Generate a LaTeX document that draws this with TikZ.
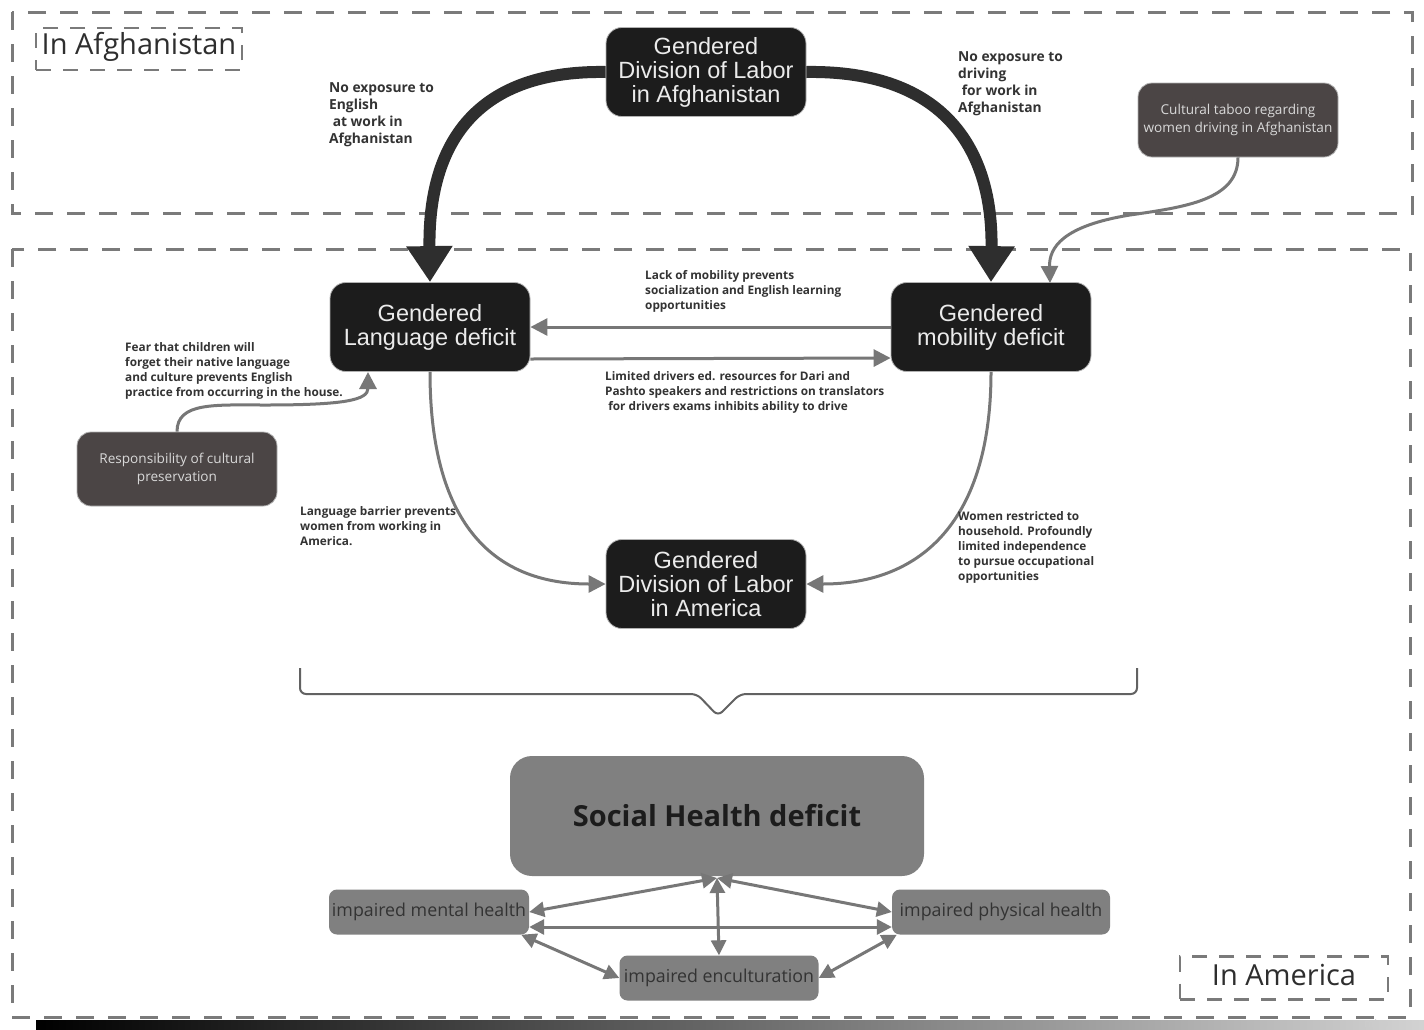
\documentclass[tikz,border=0pt]{standalone}
\usepackage{fontspec}
\setmainfont{Open Sans}
\newfontfamily\arialf{Liberation Sans}
\usetikzlibrary{arrows.meta}
\definecolor{dashc}{HTML}{7A7A7A}
\definecolor{nodeblack}{HTML}{1C1C1C}
\definecolor{brownbox}{HTML}{4B4545}
\definecolor{midgray}{HTML}{808080}
\definecolor{arrowgray}{HTML}{777777}
\definecolor{thickc}{HTML}{2E2E2E}
\definecolor{labtext}{HTML}{333333}
\tikzset{
  regionbox/.style={draw=dashc, line width=3pt, dash pattern=on 18pt off 14pt},
  tagbox/.style={draw=dashc, line width=2.5pt, dash pattern=on 15pt off 12pt, inner sep=0pt},
  blackbox/.style={fill=nodeblack, draw=gray!60, line width=0.8pt, rounded corners=16pt, text=white!92!black,
    minimum width=200pt, minimum height=89pt, align=center, font=\arialf\fontsize{23.5}{24}\selectfont, inner sep=0pt},
  brownnode/.style={fill=brownbox, draw=gray!60, line width=0.8pt, rounded corners=14pt, text=white!85!black,
    minimum width=200pt, minimum height=74pt, align=center, font=\fontsize{13.6}{17.5}\selectfont, inner sep=0pt},
  graybox/.style={fill=midgray, rounded corners=8pt, text=labtext, inner sep=0pt,
    minimum height=45pt, font=\fontsize{17.8}{20}\selectfont},
  note/.style={anchor=north west, align=left, text=labtext, inner sep=0pt, font=\bfseries\fontsize{11.8}{15.2}\selectfont},
  bignote/.style={anchor=north west, align=left, text=labtext, inner sep=0pt, font=\bfseries\fontsize{13.8}{17.3}\selectfont},
  thickarrow/.style={draw=thickc, line width=12pt, -{Triangle[width=44pt,length=36pt]}},
  thinarrow/.style={draw=arrowgray, line width=3pt, -{Triangle[width=17pt,length=17pt]}},
  duoarrow/.style={draw=arrowgray, line width=3pt, {Triangle[width=15pt,length=15pt]}-{Triangle[width=15pt,length=15pt]}},
}
\begin{document}
\begin{tikzpicture}[x=1pt,y=-1pt]
\useasboundingbox (0,0) rectangle (1424,1029);
\fill[white] (0,0) rectangle (1424,1029);

% regions
\draw[regionbox] (12,12) rectangle (1412,213);
\draw[regionbox] (12,249) rectangle (1410,1017);
\node[tagbox, minimum width=206pt, minimum height=42pt] (tagA) at (139,49) {};
\node[font=\fontsize{29}{32}\selectfont, text=labtext!90!black] (tagAt) at (139,47) {In Afghanistan};
\node[tagbox, minimum width=208pt, minimum height=43pt] (tagB) at (1284,978) {};
\node[font=\fontsize{29}{32}\selectfont, text=labtext!90!black] (tagBt) at (1284,975) {In America};

% main nodes
\node[blackbox] (divafg) at (706,72) {Gendered\\Division of Labor\\in Afghanistan};
\node[blackbox] (lang) at (430,327) {Gendered\\Language deficit};
\node[blackbox] (mob) at (991,327) {Gendered\\mobility deficit};
\node[blackbox] (divam) at (706,584) {Gendered\\Division of Labor\\in America};
\node[brownnode] (taboo) at (1238,120) {Cultural taboo regarding\\women driving in Afghanistan};
\node[brownnode] (resp) at (177,469) {Responsibility of cultural\\preservation};

% thick arrows
\draw[thickarrow] (divafg.west) .. controls (470,70) and (428,150) .. (lang.north);
\draw[thickarrow] (divafg.east) .. controls (945,70) and (993,150) .. (mob.north);

% labels top
\node[bignote] (l1) at (329,82) {No exposure to\\English\\\ at work in\\Afghanistan};
\node[bignote] (l2) at (958,51) {No exposure to\\driving\\\ for work in\\Afghanistan};

% thin arrows
\draw[thinarrow] (mob.west) -- (lang.east);
\draw[thinarrow] ([yshift=-32pt]lang.east) -- ([yshift=-31pt]mob.west);
\draw[thinarrow] (lang.south) .. controls (430,520) and (490,584) .. (divam.west);
\draw[thinarrow] (mob.south) .. controls (991,520) and (922,584) .. (divam.east);
\coordinate (tabend) at (1050,283);
\draw[thinarrow] (taboo.south) .. controls (1238,200) and (1185,207) .. (1130,215) .. controls (1062,226) and (1049,248) .. (tabend);
\coordinate (respend) at (368,372);
\draw[thinarrow] (resp.north) .. controls (177,402) and (215,405) .. (265,405) .. controls (345,405) and (368,400) .. (respend);

\node[note] (l3) at (645,270) {Lack of mobility prevents\\socialization and English learning\\opportunities};
\node[note] (l4) at (605,371) {Limited drivers ed. resources for Dari and\\Pashto speakers and restrictions on translators\\\ for drivers exams inhibits ability to drive};
\node[note] (l5) at (125,342) {Fear that children will\\forget their native language\\and culture prevents English\\practice from occurring in the house.};
\node[note] (l6) at (300,506) {Language barrier prevents\\women from working in\\America.};
\node[note] (l7) at (958,511) {Women restricted to\\household. Profoundly\\limited independence\\to pursue occupational\\opportunities};

% brace
\draw[draw=dashc!80!black, line width=2pt, rounded corners=6pt]
  (300,668) -- (300,694) -- (697,694) -- (718,716) -- (740,694) -- (1137,694) -- (1137,668);

% bottom part
\node[fill=midgray, rounded corners=22pt, minimum width=414pt, minimum height=120pt, inner sep=0pt,
  text=nodeblack, font=\bfseries\fontsize{29}{32}\selectfont] (social) at (717,816) {Social Health deficit};
\node[graybox, minimum width=200pt] (mental) at (429,912) {impaired mental health};
\node[graybox, minimum width=218pt] (phys) at (1001,912) {impaired physical health};
\node[graybox, minimum width=199pt] (encul) at (719,978) {impaired enculturation};

\coordinate (sb) at (717,878);
\draw[duoarrow] (sb) -- (mental.east);
\draw[duoarrow] (sb) -- (phys.west);
\draw[duoarrow] (sb) -- (encul.north);
\draw[duoarrow] ([yshift=-15pt]mental.east) -- ([yshift=-15pt]phys.west);
\draw[duoarrow] ([xshift=-8pt]mental.south east) -- (encul.west);
\draw[duoarrow] ([xshift=5pt]phys.south west) -- (encul.east);

% bottom bar artifact
\shade[left color=black, right color=gray!35] (36,1020) rectangle (1424,1029);
\node[text=gray!40, font=\fontsize{11}{12}\selectfont, inner sep=0pt, anchor=south] (miro) at (1376,1028) {miro};
\end{tikzpicture}
\end{document}
